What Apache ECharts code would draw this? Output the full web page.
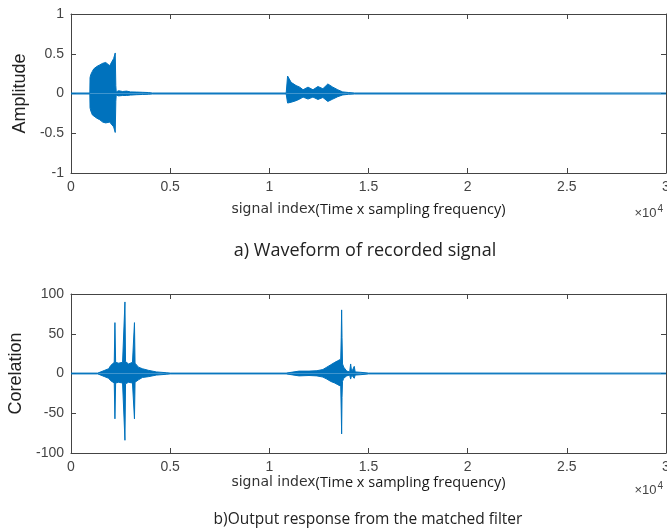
<!DOCTYPE html>
<html>
<head>
<meta charset="utf-8">
<script src="https://cdn.jsdelivr.net/npm/echarts@6/dist/echarts.min.js"></script>
<style>
  html, body { margin: 0; padding: 0; background: #fff; }
  #chart { width: 667px; height: 531px; }
</style>
</head>
<body>
<div id="chart"></div>
<script>
// envelope of the recorded waveform: [sample index, upper, lower]
const waveEnvelope = [
  [0, 0.006, -0.006], [950, 0.006, -0.006], [960, 0.2, -0.18], [1000, 0.24, -0.22],
  [1080, 0.28, -0.27], [1150, 0.31, -0.29], [1300, 0.34, -0.31], [1450, 0.36, -0.33],
  [1600, 0.38, -0.36], [1750, 0.39, -0.37], [1850, 0.38, -0.37], [1950, 0.35, -0.36],
  [2050, 0.36, -0.37], [2150, 0.44, -0.42], [2230, 0.51, -0.49], [2260, 0.1, -0.1],
  [2280, 0.02, -0.02], [2400, 0.035, -0.03], [2600, 0.025, -0.025], [2800, 0.03, -0.025],
  [3000, 0.02, -0.02], [3300, 0.018, -0.015], [3600, 0.015, -0.012], [3900, 0.012, -0.01],
  [4100, 0.006, -0.006], [10850, 0.006, -0.006], [10920, 0.22, -0.12], [11100, 0.14, -0.11],
  [11350, 0.1, -0.09], [11530, 0.08, -0.07], [11700, 0.047, -0.045], [11950, 0.08, -0.07],
  [12200, 0.047, -0.045], [12450, 0.088, -0.075], [12700, 0.06, -0.05], [12950, 0.12, -0.1],
  [13200, 0.08, -0.07], [13450, 0.047, -0.04], [13700, 0.02, -0.018], [14000, 0.012, -0.01],
  [14300, 0.006, -0.006], [30000, 0.006, -0.006]
];

// envelope of the matched filter output: [sample index, upper, lower]
const corrEnvelope = [
  [0, 0.5, -0.5], [1350, 0.5, -0.5], [1450, 2, -2], [1700, 4, -4], [1900, 6, -6],
  [2000, 10, -9], [2100, 12, -10], [2180, 14, -12], [2215, 64, -57], [2250, 14, -12],
  [2400, 13, -11], [2600, 14, -12], [2690, 15, -13], [2720, 90, -84], [2750, 15, -13],
  [2900, 12, -11], [3100, 14, -12], [3170, 15, -13], [3200, 64, -57], [3230, 13, -11],
  [3400, 8, -8], [3600, 6, -5], [3900, 4, -4], [4300, 2, -2], [4800, 1, -1],
  [5000, 0.5, -0.5], [10850, 0.5, -0.5], [10950, 2.5, -2.5], [11500, 3, -3],
  [12000, 3, -2.5], [12400, 3.5, -3], [12700, 5, -4.5], [12900, 8, -7], [13100, 11, -10],
  [13300, 14, -12], [13450, 16, -14], [13600, 18, -16], [13625, 45, -46], [13645, 80, -76],
  [13665, 45, -30], [13690, 12, -10], [13750, 8, -6], [13900, 3, -3], [14050, 2, -2],
  [14100, 12, -7], [14150, 2, -2], [14280, 9, -6], [14330, 2, -2], [14600, 1.5, -1.5],
  [15000, 0.5, -0.5], [30000, 0.5, -0.5]
];

const xTicks = [0, 5000, 10000, 15000, 20000, 25000, 30000];
const xTickLabels = ['0', '0.5', '1', '1.5', '2', '2.5', '3'];

const blue = '#0072BD';
const axisColor = '#444';
const labelFont = 'Liberation Sans';

const xLabelRich = {
  a: { fontFamily: 'DejaVu Sans', fontSize: 14, color: '#333' },
  b: { fontFamily: 'Open Sans', fontSize: 14.5, color: '#1a1a1a' }
};

function xAxisFor(gridIndex, nameGap) {
  return [{
    type: 'value', gridIndex: gridIndex, min: 0, max: 30000, interval: 5000,
    name: '{a|signal index}{b|(Time x sampling frequency)}',
    nameLocation: 'middle', nameGap: nameGap,
    nameTextStyle: { rich: xLabelRich },
    axisLine: { onZero: false, lineStyle: { color: axisColor } },
    axisTick: { inside: true, length: 5, lineStyle: { color: axisColor } },
    splitLine: { show: false },
    axisLabel: {
      color: axisColor, fontFamily: labelFont, fontSize: 14, margin: 7,
      formatter: v => xTickLabels[xTicks.indexOf(v)]
    }
  }, {
    type: 'value', gridIndex: gridIndex, position: 'top', min: 0, max: 30000, interval: 5000,
    axisLine: { onZero: false, lineStyle: { color: axisColor } },
    axisTick: { inside: true, length: 5, lineStyle: { color: axisColor } },
    splitLine: { show: false }, axisLabel: { show: false }
  }];
}

function yAxisFor(gridIndex, name, min, max, interval, nameGap) {
  return [{
    type: 'value', gridIndex: gridIndex, min: min, max: max, interval: interval,
    name: name, nameLocation: 'middle', nameGap: nameGap,
    nameTextStyle: { fontFamily: labelFont, fontSize: 18, color: '#222' },
    axisLine: { show: true, onZero: false, lineStyle: { color: axisColor } },
    axisTick: { show: true, inside: true, length: 5, lineStyle: { color: axisColor } },
    splitLine: { show: false },
    axisLabel: { color: axisColor, fontFamily: labelFont, fontSize: 14, margin: 7 }
  }, {
    type: 'value', gridIndex: gridIndex, position: 'right', min: min, max: max, interval: interval,
    axisLine: { show: true, onZero: false, lineStyle: { color: axisColor } },
    axisTick: { show: true, inside: true, length: 5, lineStyle: { color: axisColor } },
    splitLine: { show: false }, axisLabel: { show: false }
  }];
}

function envSeries(env, col, axisIndex) {
  return {
    type: 'line', xAxisIndex: axisIndex, yAxisIndex: axisIndex,
    data: env.map(p => [p[0], p[col]]),
    showSymbol: false, silent: true, sampling: 'none',
    lineStyle: { color: blue, width: 1 },
    areaStyle: { color: blue, opacity: 1 }
  };
}

const sup = { s: { fontSize: 10, verticalAlign: 'top', padding: [0, 0, 9, 1], fill: axisColor } };

const chart = echarts.init(document.getElementById('chart'));
chart.setOption({
  backgroundColor: '#fff',
  animation: false,
  grid: [
    { left: 71, right: 1, top: 14, height: 159, outerBoundsMode: 'none' },
    { left: 71, right: 1, top: 294, height: 159, outerBoundsMode: 'none' }
  ],
  xAxis: [].concat(xAxisFor(0, 29), xAxisFor(1, 21)),
  yAxis: [].concat(yAxisFor(0, 'Amplitude', -1, 1, 0.5, 39), yAxisFor(1, 'Corelation', -100, 100, 50, 43)),
  series: [
    envSeries(waveEnvelope, 1, 0),
    envSeries(waveEnvelope, 2, 0),
    envSeries(corrEnvelope, 1, 2),
    envSeries(corrEnvelope, 2, 2)
  ],
  graphic: [
    {
      type: 'text', right: 4, top: 204,
      style: { text: '×10{s|4}', fontFamily: labelFont, fontSize: 13, fill: axisColor, rich: sup }
    },
    {
      type: 'text', right: 4, top: 481,
      style: { text: '×10{s|4}', fontFamily: labelFont, fontSize: 13, fill: axisColor, rich: sup }
    },
    {
      type: 'text', x: 365, y: 251,
      style: { text: 'a) Waveform of recorded signal', fontFamily: 'Open Sans', fontSize: 18,
        fill: '#222', align: 'center', verticalAlign: 'middle' }
    },
    {
      type: 'text', x: 368, y: 520,
      style: { text: 'b)Output response from the matched filter', fontFamily: 'Open Sans', fontSize: 15.5,
        fill: '#222', align: 'center', verticalAlign: 'middle' }
    }
  ]
});
</script>
</body>
</html>
